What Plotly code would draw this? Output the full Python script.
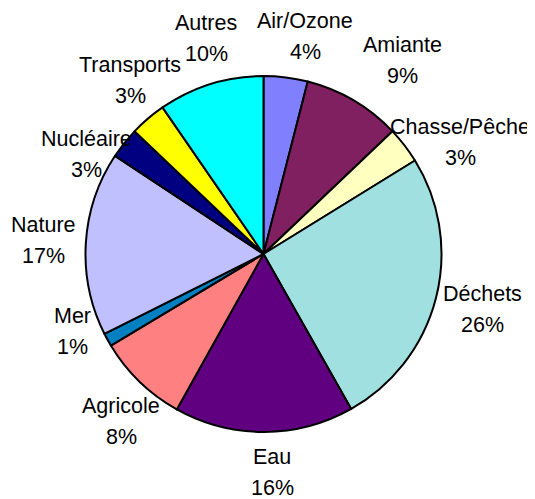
import plotly.graph_objects as go

categories = ["Air/Ozone", "Amiante", "Chasse/Pêche", "Déchets", "Eau", "Agricole",
              "Mer", "Nature", "Nucléaire", "Transports", "Autres"]
shares = [4.0, 8.9, 3.3, 25.6, 16.3, 8.3, 1.2, 16.7, 2.8, 3.3, 9.6]
colors = ["#8080FF", "#802060", "#FFFFC0", "#A0E0E0", "#600080", "#FF8080",
          "#0080C0", "#C0C0FF", "#000080", "#FFFF00", "#00FFFF"]

# where each two-line label sits (window pixel centre of the name line), Excel-style placement
label_xy = [(305, 21), (402, 45), (460, 127), (482, 294), (272, 457), (121, 406),
            (72, 316), (43, 225), (86, 139), (130, 65), (206, 23)]

# the page body has an 8px margin, so the figure is drawn 8px in from the window corner
OFF = 8
W, H = 535 - OFF, 499 - OFF
FONT = dict(family="Liberation Sans, Arial, sans-serif", size=21.5, color="black")


def fx(px_):
    return (px_ - OFF) / W


def fy(py_):
    return 1 - (py_ - OFF) / H


fig = go.Figure(go.Pie(
    labels=categories,
    values=shares,
    sort=False,
    direction="clockwise",
    rotation=0,
    marker=dict(colors=colors, line=dict(color="black", width=2)),
    textinfo="none",
    domain=dict(x=[fx(85.5), fx(441.5)], y=[fy(432), fy(76)]),
    showlegend=False,
    hoverinfo="label+percent",
))

total = sum(shares)
for name, val, (px_, py_) in zip(categories, shares, label_xy):
    for i, txt in enumerate([name, f"{val / total * 100:.0f}%"]):
        fig.add_annotation(
            x=fx(px_), y=fy(py_ + 31 * i), xref="paper", yref="paper",
            text=txt, showarrow=False, font=FONT,
            xanchor="center", yanchor="middle",
        )

fig.update_layout(
    width=W,
    height=H,
    margin=dict(l=0, r=0, t=0, b=0),
    paper_bgcolor="white",
    plot_bgcolor="white",
)

fig.write_html("out.html")
